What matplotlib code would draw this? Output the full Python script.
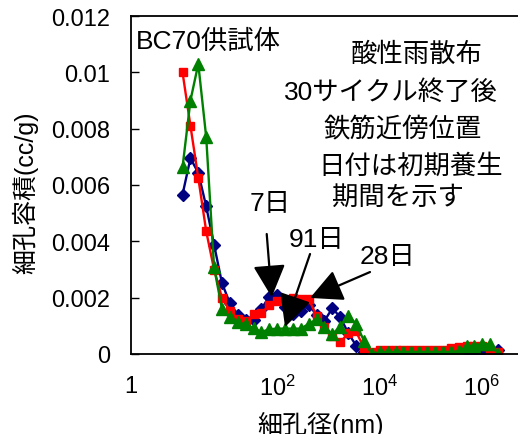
import numpy as np
import matplotlib
matplotlib.use('Agg')
import matplotlib.pyplot as plt

plt.rcParams['font.family'] = ['Liberation Sans', 'Noto Sans CJK JP']
plt.rcParams['mathtext.fontset'] = 'custom'
plt.rcParams['mathtext.rm'] = 'Liberation Sans'

# pore diameter (nm) of each intrusion step
diam = [1.35, 1.93, 2.75, 3.93, 5.61, 8.00, 11.4, 16.3, 23.3, 33.3,
        47.5, 67.8, 96.8, 138, 198, 282, 403, 575, 820, 1172,
        1675, 2388, 3412, 4875, 6966, 9931, 14190, 20280, 28910, 41300,
        59020, 84140, 120200, 171800, 245500, 349900, 500000, 714500,
        1019000, 1455000, 2080000]

# pore volume (cc/g), curing period 7 days
vol_7 = [0.00566, 0.00695, 0.00643, 0.00524, 0.00388, 0.00252, 0.00181, 0.00140,
         0.00120, 0.00120, 0.00160, 0.00204, 0.00210, 0.00166, 0.00142, 0.00154,
         0.00175, 0.00138, 0.00118, 0.00163, 0.00130, 0.00075, 0.00030, 0.00006,
         0.00000, 0.00000, 0.00002, 0.00002, 0.00002, 0.00002, 0.00002, 0.00002,
         0.00002, 0.00003, 0.00003, 0.00004, 0.00005, 0.00010, 0.00012, 0.00018,
         0.00015]
# curing period 28 days
vol_28 = [0.01000, 0.00810, 0.00625, 0.00436, 0.00300, 0.00200, 0.00154, 0.00124,
          0.00116, 0.00142, 0.00144, 0.00174, 0.00187, 0.00190, 0.00200, 0.00194,
          0.00194, 0.00136, 0.00095, 0.00065, 0.00042, 0.00073, 0.00080, 0.00021,
          0.00008, 0.00015, 0.00015, 0.00015, 0.00015, 0.00015, 0.00015, 0.00015,
          0.00015, 0.00015, 0.00020, 0.00025, 0.00030, 0.00028, 0.00030, 0.00010,
          0.00008]
# curing period 91 days
vol_91 = [0.00663, 0.00900, 0.01030, 0.00770, 0.00308, 0.00160, 0.00130, 0.00112,
          0.00105, 0.00092, 0.00078, 0.00088, 0.00090, 0.00090, 0.00090, 0.00090,
          0.00107, 0.00124, 0.00095, 0.00071, 0.00097, 0.00136, 0.00107, 0.00047,
          0.00000, 0.00007, 0.00007, 0.00007, 0.00007, 0.00007, 0.00007, 0.00007,
          0.00007, 0.00007, 0.00007, 0.00010, 0.00027, 0.00030, 0.00036, 0.00036,
          0.00000]

yticks = [0, 0.002, 0.004, 0.006, 0.008, 0.01, 0.012]
ytick_labels = ['0', '0.002', '0.004', '0.006', '0.008', '0.01', '0.012']

XMIN = 10 ** -0.88
XMAX = 10 ** 6.845
xticks = [XMIN, 1e2, 1e4, 1e6]
xtick_labels = ['1', r'$\mathregular{10^2}$', r'$\mathregular{10^4}$', r'$\mathregular{10^6}$']

W, H = 518, 435
fig = plt.figure(figsize=(W / 100, H / 100), dpi=100)
ax = fig.add_axes([131 / W, 80 / H, (525 - 131) / W, (355 - 17) / H])

ax.plot(diam, vol_7, color='#000080', marker='D', markersize=6, lw=1.7)
ax.plot(diam, vol_28, color='#FF0000', marker='s', markersize=6.2, lw=1.7)
ax.plot(diam, vol_91, color='#008000', marker='^', markersize=8, lw=1.7)

ax.set_xscale('log')
ax.set_xlim(XMIN, XMAX)
ax.set_ylim(0, 0.012)
ax.minorticks_off()
ax.set_xticks(xticks)
ax.set_xticklabels(xtick_labels)
ax.set_yticks(yticks)
ax.set_yticklabels(ytick_labels)
ax.tick_params(axis='x', length=0, pad=15, labelsize=17)
ax.tick_params(axis='y', direction='in', length=6, width=1, pad=15, labelsize=17)
for sp in ax.spines.values():
    sp.set_linewidth(1.3)

ax.set_ylabel('細孔容積(cc/g)', fontsize=18)
ax.yaxis.set_label_coords(38 / W, 1 - 193 / H, transform=fig.transFigure)
ax.set_xlabel('細孔径(nm)', fontsize=18)
ax.xaxis.set_label_coords(320 / W, 1 - 412 / H, transform=fig.transFigure)

def px(x, y):
    return x / W, 1 - y / H

fig.text(*px(136, 42), 'BC70供試体', fontsize=19, ha='left', va='center')
notes = [('酸性雨散布', 416, 55), ('30サイクル終了後', 391, 93),
         ('鉄筋近傍位置', 403, 129), ('日付は初期養生', 411, 166),
         ('期間を示す', 398, 198)]
for s, x, y in notes:
    fig.text(*px(x, y), s, fontsize=19, ha='center', va='center')

# labels for each curing period with arrows
arrows = [('7日', (70, 0.00536), (60.4, 0.00426), (75.7, 0.00202)),
          ('91日', (585, 0.00408), (427, 0.00355), (138, 0.00096)),
          ('28日', (13800, 0.00348), (6400, 0.00291), (427, 0.00199))]
for s, tpos, tail, tip in arrows:
    ax.text(tpos[0], tpos[1], s, fontsize=19, ha='center', va='center')
    ax.annotate('', xy=tip, xytext=tail,
                arrowprops=dict(arrowstyle='-|>,head_length=1.0,head_width=0.5',
                                mutation_scale=20, lw=1.6, color='black',
                                shrinkA=0, shrinkB=0))

fig.savefig('out.png', dpi=100)
